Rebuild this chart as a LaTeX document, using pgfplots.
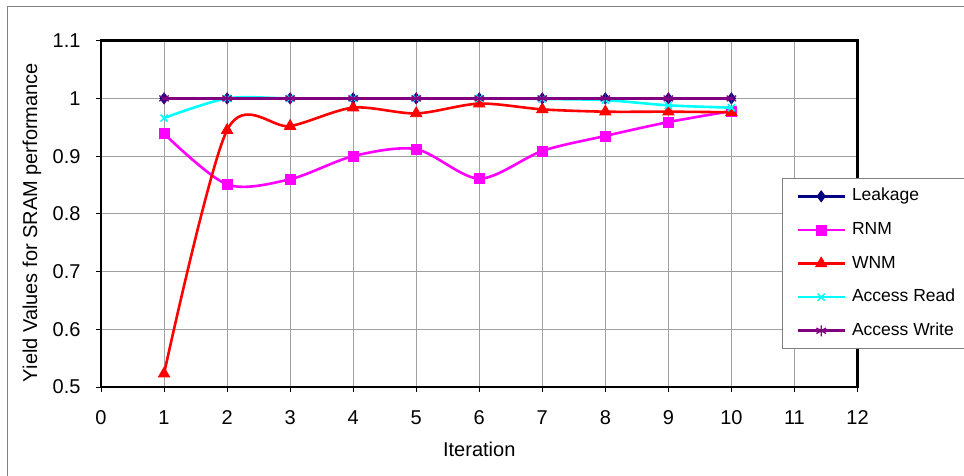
\documentclass[border=0pt]{standalone}
\usepackage{fontspec}
\setmainfont{Liberation Sans}
\usepackage{pgfplots}
\pgfplotsset{compat=1.18}

\definecolor{leak}{HTML}{000080}
\definecolor{rnm}{HTML}{FF00FF}
\definecolor{wnm}{HTML}{FF0000}
\definecolor{aread}{HTML}{00FFFF}
\definecolor{awrite}{HTML}{800080}
\definecolor{gridgray}{HTML}{A0A0A0}

\begin{document}
\begin{tikzpicture}[x=1pt,y=1pt]
\path[use as bounding box] (0,0) rectangle (964,476);
% outer chart frame
\draw[gray, line width=1pt] (7,-20) -- (7,469) -- (1000,469);
\begin{axis}[
  at={(101pt,89pt)}, anchor=south west,
  scale only axis, width=756.5pt, height=346.3pt,
  xmin=0, xmax=12, ymin=0.5, ymax=1.1,
  xtick={0,1,...,12}, ytick={0.5,0.6,0.7,0.8,0.9,1,1.1},
  tick pos=left, tick align=outside, major tick length=5pt,
  grid=major, grid style={gridgray, line width=0.9pt},
  axis line style={black, line width=2.6pt},
  tick style={black, line width=0.8pt},
  /pgf/number format/assume math mode=true,
  tick label style={font=\fontsize{20}{24}\selectfont},
  yticklabel style={xshift=-12pt},
  xticklabel style={yshift=-15pt},
  xlabel={Iteration}, ylabel={Yield Values for SRAM performance},
  label style={font=\fontsize{20}{24}\selectfont},
  xlabel style={at={(axis description cs:0.5,0)}, anchor=base, yshift=-70pt, inner sep=0pt},
  ylabel style={at={(axis description cs:-0.0846,0.475)}, anchor=base, inner sep=0pt},
  legend style={at={(axis description cs:0.9002,0.6035)}, anchor=north west,
    draw=gray, line width=0.8pt, fill=white,
    font=\fontsize{17.5}{20}\selectfont,
    inner xsep=14pt, inner ysep=9.8pt, row sep=17.3pt, column sep=6pt,
    nodes={inner sep=0pt, text height=12.6pt, text depth=3.7pt}},
  legend cell align=left,
  legend image code/.code={
    \draw[mark repeat=2, mark phase=2, #1] plot coordinates {(0pt,0pt) (23.5pt,0pt) (47pt,0pt)};
  },
  every axis plot/.append style={line width=2.6pt, smooth, tension=0.5},
  clip mode=individual,
]
\addplot[color=leak, mark=diamond*, mark size=5.5pt, mark options={solid, fill=leak, line width=0.8pt}]
  coordinates {(1,1) (2,1) (3,1) (4,1) (5,1) (6,1) (7,1) (8,1) (9,1) (10,1)};
\addlegendentry{Leakage}
\addplot[color=rnm, mark=square*, mark size=5pt, mark options={solid, fill=rnm, line width=0.8pt}]
  coordinates {(1,0.939) (2,0.851) (3,0.860) (4,0.900) (5,0.912) (6,0.861) (7,0.909) (8,0.935) (9,0.959) (10,0.978)};
\addlegendentry{RNM}
\addplot[color=wnm, mark=triangle*, mark size=6.5pt, mark options={solid, fill=wnm, line width=0.8pt}]
  coordinates {(1,0.523) (2,0.945) (3,0.952) (4,0.984) (5,0.974) (6,0.991) (7,0.981) (8,0.977) (9,0.977) (10,0.976)};
\addlegendentry{WNM}
\addplot[color=aread, mark=x, mark size=5pt, mark options={solid, line width=1.5pt}]
  coordinates {(1,0.966) (2,1.0) (3,1.0) (4,1.0) (5,1.0) (6,1.0) (7,0.999) (8,0.997) (9,0.988) (10,0.984)};
\addlegendentry{Access Read}
\addplot[color=awrite, mark=asterisk, mark size=5.5pt, mark options={solid, line width=1.3pt}]
  coordinates {(1,1) (2,1) (3,1) (4,1) (5,1) (6,1) (7,1) (8,1) (9,1) (10,1)};
\addlegendentry{Access Write}
\end{axis}
\end{tikzpicture}
\end{document}
